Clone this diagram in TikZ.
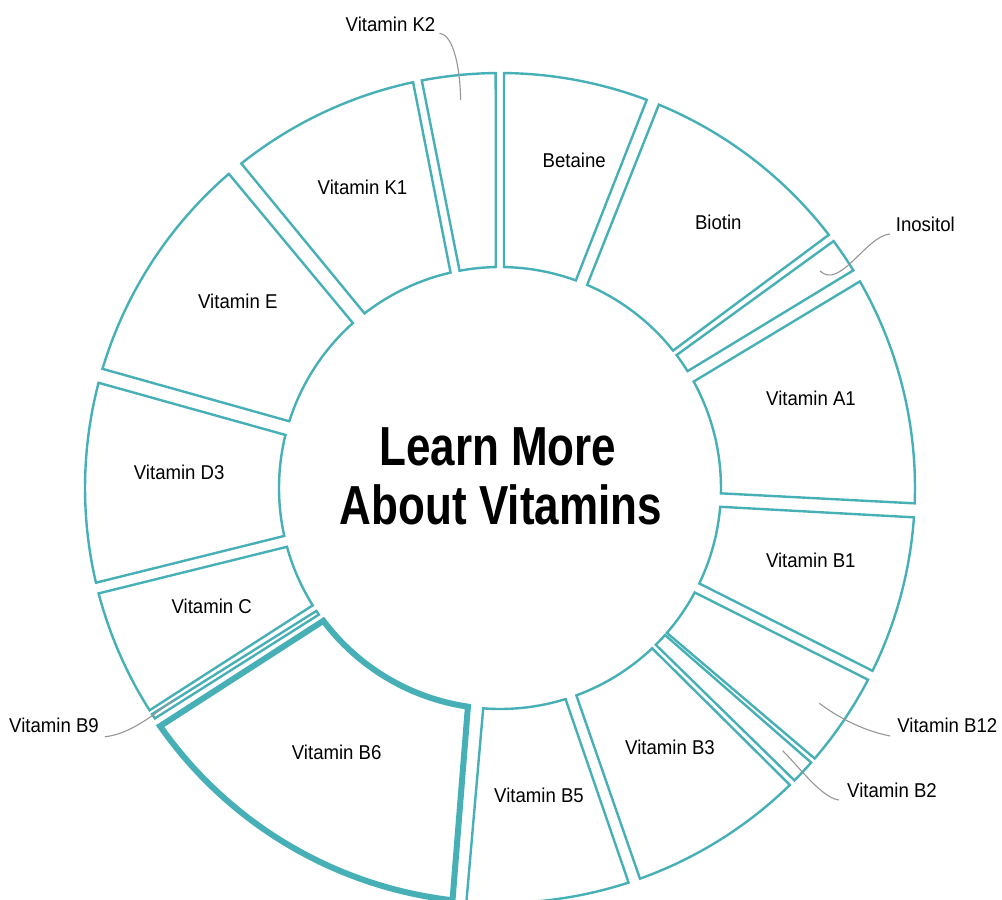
\documentclass[tikz,border=0pt]{standalone}
\usepackage{fontspec}
\setmainfont{Liberation Sans}[FakeStretch=0.93]
\newfontfamily\titlefont{Liberation Sans}[FakeStretch=0.8]
\definecolor{teal1}{RGB}{70,176,182}
\definecolor{leadc}{RGB}{150,150,150}
\def\Ro{415}
\def\Ri{221}
% #1 style; #2,#3 outer-high; #4,#5 outer-low; #6,#7 inner-low; #8,#9 inner-high (image px)
\newcommand\donutseg[9]{%
  \pgfmathsetmacro\aoh{atan2(488-#3,#2-500)}%
  \pgfmathsetmacro\aol{atan2(488-#5,#4-500)}%
  \pgfmathsetmacro\ail{atan2(488-#7,#6-500)}%
  \pgfmathsetmacro\aih{atan2(488-#9,#8-500)}%
  \pgfmathsetmacro\aol{\aol>\aoh ? \aol-360 : \aol}%
  \pgfmathsetmacro\aih{\aih<\ail ? \aih+360 : \aih}%
  \draw[#1] ([shift={(\aoh:\Ro pt)}]C) arc[start angle=\aoh, end angle=\aol, radius=\Ro pt]
    -- ([shift={(\ail:\Ri pt)}]C) arc[start angle=\ail, end angle=\aih, radius=\Ri pt] -- cycle;
}
\begin{document}
\begin{tikzpicture}[x=1pt,y=1pt,
  seg/.style={draw=teal1, line width=2.4pt, fill=white},
  segsel/.style={draw=teal1, line width=6pt, fill=white},
  lab/.style={inner sep=0pt, font=\fontsize{20}{24}\selectfont, text=black},
  ttl/.style={inner sep=0pt, font=\titlefont\bfseries\fontsize{55}{60}\selectfont, text=black},
  leader/.style={draw=leadc, line width=1.1pt}]
\useasboundingbox (0,0) rectangle (1002,-900);
\coordinate (C) at (500,-488);

\donutseg{seg}{504}{72.7}{646.7}{100}{576}{280}{504}{266.7}        % Betaine
\donutseg{seg}{658.3}{106}{827.3}{236}{671.7}{351.7}{586.7}{286}   % Biotin
\donutseg{seg}{832.7}{241.7}{852.3}{271}{686.7}{371.7}{676.7}{355} % Inositol
\donutseg{seg}{858.3}{282.3}{913.3}{503.3}{719.3}{493.3}{692.3}{382.3} % A1
\donutseg{seg}{913.3}{517.3}{872.3}{670.7}{699}{583.3}{719.3}{506.7}   % B1
\donutseg{seg}{866.7}{679}{813.3}{757.3}{666.7}{632.7}{693.3}{591.7}   % B12
\donutseg{seg}{808.3}{760}{793.3}{779.3}{655}{644}{665}{635}           % B2
\donutseg{seg}{788.3}{783.3}{639}{876}{575}{691.7}{650}{646}           % B3
\donutseg{seg}{628.3}{881.7}{466.7}{898.3}{483.3}{706.7}{565}{697.3}   % B5
\donutseg{seg}{155}{718.3}{153.3}{713.3}{316.7}{610.7}{318.3}{615}     % B9
\donutseg{seg}{150}{710}{99}{593.3}{287.3}{546.7}{313.3}{605}          % C
\donutseg{seg}{96}{582.7}{98.3}{382.7}{285.7}{435}{284}{536}           % D3
\donutseg{seg}{104}{369.3}{230.7}{176}{354}{324.3}{290.7}{421.7}       % E
\donutseg{seg}{241.7}{164}{413.3}{83.3}{450.7}{273.3}{365}{314}        % K1
\donutseg{seg}{421.7}{80}{495.7}{73.3}{495.7}{266.7}{459.3}{269.3}     % K2
\donutseg{segsel}{453.3}{893.3}{161.7}{725}{326.7}{618.3}{468.3}{704}  % B6

% segment labels
\node[lab] (tBet) at (574.2,-160.8) {Betaine};
\node[lab] (tBio) at (718.3,-222.5) {Biotin};
\node[lab] (tA1) at (811,-398) {Vitamin A1};
\node[lab] (tB1) at (810.8,-560.5) {Vitamin B1};
\node[lab] (tB3) at (670,-747.5) {Vitamin B3};
\node[lab] (tB5) at (539,-795) {Vitamin B5};
\node[lab] (tB6) at (336.7,-752.5) {Vitamin B6};
\node[lab] (tC) at (211.7,-606.2) {Vitamin C};
\node[lab] (tD3) at (179.2,-472) {Vitamin D3};
\node[lab] (tE) at (237.8,-301.3) {Vitamin E};
\node[lab] (tK1) at (362.5,-187.5) {Vitamin K1};

% outside labels
\node[lab] (tK2) at (390.5,-24.2) {Vitamin K2};
\node[lab] (tIno) at (925.3,-224.2) {Inositol};
\node[lab] (tB12) at (947.3,-725.7) {Vitamin B12};
\node[lab] (tB2) at (892,-790.5) {Vitamin B2};
\node[lab] (tB9) at (54,-725) {Vitamin B9};

\coordinate (pK2) at (460.7,-100);
\coordinate (pIno) at (820,-271);
\coordinate (pB12) at (819.3,-703.3);
\coordinate (pB2) at (782.7,-750.7);
\coordinate (pB9) at (173.3,-700);

\draw[leader] ([shift={(4,-9.1)}]tK2.east) .. controls +(12,-1) and +(-1,40) .. (pK2);
\draw[leader] ([shift={(-5.7,-9.8)}]tIno.west) .. controls +(-24,-2) and +(20,-19) .. (pIno);
\draw[leader] ([shift={(-7,-10.3)}]tB12.west) .. controls +(-30,6) and +(16,-12) .. (pB12);
\draw[leader] ([shift={(-8,-9.5)}]tB2.west) .. controls +(-17,2) and +(17,-17) .. (pB2);
\draw[leader] ([shift={(6,-11.7)}]tB9.east) .. controls +(20,2) and +(-28,-22) .. (pB9);

% title
\node[ttl, anchor=base] (title1) at (497.9,-465.7) {Learn More};
\node[ttl, anchor=base] (title2) at (500.9,-524) {About Vitamins};
\end{tikzpicture}
\end{document}
